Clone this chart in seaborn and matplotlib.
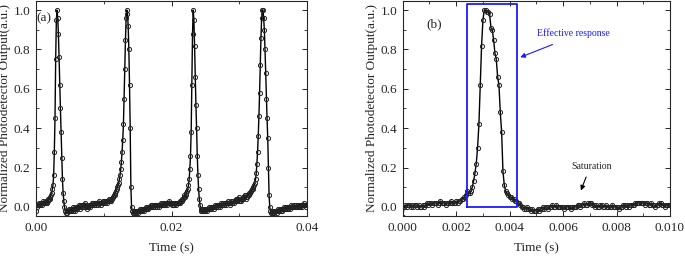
import numpy as np
import pandas as pd
import matplotlib
matplotlib.use('Agg')
import matplotlib.pyplot as plt
from matplotlib.ticker import MultipleLocator
import seaborn as sns

# panel (a): pulse train, sampled every 0.1 ms (one row = 1 ms)
signal_a = [
    -0.02, 0.00, 0.01, 0.01, 0.02, 0.01, 0.01, 0.02, 0.02, 0.01,
    0.02, 0.03, 0.02, 0.02, 0.03, 0.02, 0.02, 0.03, 0.04, 0.04,
    0.04, 0.05, 0.06, 0.07, 0.09, 0.11, 0.16, 0.28, 0.45, 0.75,
    0.95, 1.00, 0.96, 0.88, 0.76, 0.62, 0.50, 0.38, 0.25, 0.14,
    0.07, 0.03, 0.00, -0.02, -0.03, -0.02, -0.03, -0.02, -0.01, -0.02,
    -0.02, -0.01, -0.02, -0.01, -0.02, 0.00, -0.01, -0.02, -0.01, 0.00,
    0.00, -0.01, 0.00, 0.01, 0.00, -0.01, 0.00, 0.01, 0.01, 0.00,
    0.00, 0.01, 0.02, 0.01, 0.00, -0.01, 0.00, 0.00, 0.01, 0.00,
    0.01, 0.01, 0.02, 0.01, 0.02, 0.01, 0.01, 0.02, 0.01, 0.02,
    0.02, 0.01, 0.02, 0.03, 0.02, 0.02, 0.01, 0.02, 0.02, 0.03,
    0.03, 0.02, 0.02, 0.03, 0.03, 0.02, 0.03, 0.04, 0.03, 0.03,
    0.03, 0.04, 0.04, 0.05, 0.05, 0.06, 0.06, 0.07, 0.08, 0.09,
    0.10, 0.11, 0.12, 0.14, 0.16, 0.19, 0.23, 0.28, 0.34, 0.42,
    0.55, 0.70, 0.85, 0.96, 1.00, 0.98, 0.92, 0.80, 0.62, 0.40,
    0.10, 0.00, -0.02, -0.03, -0.02, -0.03, -0.03, -0.02, -0.03, -0.02,
    -0.02, -0.03, -0.02, -0.01, -0.02, -0.02, -0.01, -0.02, -0.01, -0.01,
    -0.02, -0.01, 0.00, -0.01, -0.01, 0.00, -0.01, 0.00, 0.00, 0.01,
    0.00, 0.01, 0.00, 0.00, 0.01, 0.00, 0.01, 0.01, 0.00, 0.01,
    0.01, 0.00, 0.01, 0.01, 0.02, 0.01, 0.01, 0.02, 0.01, 0.01,
    0.02, 0.01, 0.02, 0.02, 0.01, 0.02, 0.02, 0.03, 0.02, 0.02,
    0.01, 0.02, 0.01, 0.02, 0.01, 0.02, 0.02, 0.01, 0.02, 0.02,
    0.02, 0.02, 0.03, 0.02, 0.03, 0.03, 0.04, 0.04, 0.05, 0.06,
    0.05, 0.06, 0.07, 0.08, 0.09, 0.11, 0.14, 0.19, 0.26, 0.38,
    0.62, 0.88, 1.00, 0.95, 0.82, 0.66, 0.52, 0.40, 0.26, 0.16,
    0.09, 0.04, 0.01, -0.01, -0.02, -0.02, -0.01, -0.02, -0.02, -0.01,
    -0.02, -0.01, -0.01, -0.02, -0.01, 0.00, -0.01, -0.01, 0.00, -0.01,
    0.00, 0.00, -0.01, 0.00, 0.01, 0.00, 0.00, 0.01, 0.00, 0.01,
    0.01, 0.00, 0.01, 0.02, 0.01, 0.01, 0.02, 0.01, 0.01, 0.02,
    0.02, 0.01, 0.02, 0.03, 0.02, 0.02, 0.01, 0.02, 0.03, 0.02,
    0.02, 0.03, 0.02, 0.03, 0.03, 0.04, 0.03, 0.04, 0.04, 0.05,
    0.03, 0.03, 0.04, 0.03, 0.04, 0.04, 0.05, 0.05, 0.06, 0.06,
    0.04, 0.05, 0.05, 0.06, 0.06, 0.07, 0.07, 0.08, 0.08, 0.09,
    0.09, 0.10, 0.11, 0.12, 0.14, 0.17, 0.22, 0.28, 0.36, 0.46,
    0.58, 0.72, 0.86, 0.96, 1.00, 1.00, 0.96, 0.90, 0.80, 0.68,
    0.55, 0.45, 0.35, 0.20, 0.06, 0.00, -0.02, -0.03, -0.02, -0.03,
    -0.03, -0.02, -0.03, -0.02, -0.02, -0.03, -0.02, -0.01, -0.02, -0.02,
    -0.01, -0.02, -0.01, -0.02, -0.01, -0.01, 0.00, -0.01, -0.01, 0.00,
    -0.01, 0.00, -0.01, 0.00, 0.00, -0.01, 0.00, 0.01, 0.00, 0.00,
    0.00, 0.01, 0.00, 0.00, 0.01, 0.00, 0.01, 0.00, 0.00, 0.01,
    0.00, 0.01, 0.01, 0.00, 0.01, 0.02, 0.01, 0.01, 0.00, 0.01,
    0.01,
]
time_a = np.arange(len(signal_a)) * 0.0001

# panel (b): single pulse, sampled every 0.05 ms (one row = 1 ms)
signal_b = [
    -0.05, 0.00, 0.01, 0.00, 0.01, 0.01, 0.00, 0.01, 0.00, 0.01, 0.01, 0.00, 0.01, 0.00, 0.00, 0.01, 0.00, 0.01, 0.02, 0.01,
    0.02, 0.02, 0.01, 0.02, 0.02, 0.02, 0.01, 0.02, 0.03, 0.02, 0.02, 0.02, 0.01, 0.02, 0.02, 0.02, 0.03, 0.02, 0.02, 0.02,
    0.03, 0.02, 0.03, 0.03, 0.04, 0.04, 0.05, 0.06, 0.08, 0.07, 0.07, 0.08, 0.10, 0.13, 0.17, 0.22, 0.30, 0.42, 0.62, 0.82,
    0.95, 1.00, 1.00, 0.99, 0.99, 0.98, 0.91, 0.90, 0.85, 0.78, 0.75, 0.66, 0.62, 0.48, 0.38, 0.18, 0.11, 0.08, 0.07, 0.06,
    0.05, 0.05, 0.04, 0.04, 0.03, 0.03, 0.02, 0.02, 0.01, 0.00, 0.00, -0.01, -0.01, 0.00, -0.01, -0.01, -0.02, -0.01, -0.02, -0.02,
    -0.02, -0.01, -0.02, -0.01, -0.01, 0.00, -0.01, 0.00, 0.00, -0.01, 0.00, 0.00, 0.01, 0.00, 0.00, 0.01, 0.00, 0.00, 0.00, 0.00,
    0.00, -0.01, 0.00, 0.00, 0.00, 0.00, -0.01, 0.00, 0.00, 0.00, 0.00, 0.01, 0.01, 0.00, 0.01, 0.01, 0.02, 0.01, 0.01, 0.02,
    0.02, 0.02, 0.01, 0.01, 0.00, 0.01, 0.00, 0.00, 0.01, 0.01, 0.00, 0.00, 0.01, 0.00, 0.00, 0.00, 0.00, 0.01, 0.00, 0.00,
    0.00, 0.00, -0.01, 0.00, 0.00, 0.01, 0.01, 0.00, 0.01, 0.00, 0.01, 0.01, 0.01, 0.01, 0.02, 0.02, 0.02, 0.02, 0.02, 0.02,
    0.02, 0.01, 0.02, 0.02, 0.01, 0.01, 0.02, 0.01, 0.01, 0.00, 0.01, 0.01, 0.02, 0.02, 0.01, 0.01, 0.00, 0.01, 0.01, 0.01,
    0.01,
]
time_b = np.arange(len(signal_b)) * 0.00005

# effective-response window in panel (b)
window_t = [0.00242, 0.00428]
window_y = [0.0, 1.03]

frame_a = pd.DataFrame({'time': time_a, 'signal': signal_a})
frame_b = pd.DataFrame({'time': time_b, 'signal': signal_b})

sns.set_style('ticks')
plt.rcParams['font.family'] = ['Liberation Serif', 'DejaVu Serif']
plt.rcParams['font.size'] = 9.5
plt.rcParams['xtick.direction'] = 'in'
plt.rcParams['ytick.direction'] = 'in'
plt.rcParams['xtick.top'] = True
plt.rcParams['ytick.right'] = True

fig = plt.figure(figsize=(6.85, 2.58), dpi=100)
ax1 = fig.add_axes([0.0526, 0.163, 0.3956, 0.833])
ax2 = fig.add_axes([0.588, 0.163, 0.390, 0.833])

line_kw = dict(color='black', linewidth=1.0, marker='o', markersize=3.0,
               markerfacecolor='none', markeredgecolor='#222222',
               markeredgewidth=0.7, estimator=None)

sns.lineplot(data=frame_a, x='time', y='signal', ax=ax1, **line_kw)
sns.lineplot(data=frame_b, x='time', y='signal', ax=ax2, **line_kw)

for ax in (ax1, ax2):
    ax.set_ylim(-0.046, 1.046)
    ax.yaxis.set_major_locator(MultipleLocator(0.2))
    ax.yaxis.set_minor_locator(MultipleLocator(0.1))
    ax.set_xlabel('Time (s)', labelpad=6)
    ax.set_ylabel('Normalized Photodetector Output(a.u.)', labelpad=2)
    ax.tick_params(which='major', length=3.5, width=0.7, pad=4)
    ax.tick_params(which='minor', length=2, width=0.6)
    for sp in ax.spines.values():
        sp.set_linewidth(0.8)

ax1.set_xlim(0, 0.04)
ax1.xaxis.set_major_locator(MultipleLocator(0.02))
ax1.xaxis.set_minor_locator(MultipleLocator(0.01))
ax1.set_xticklabels([f'{v:.2f}' for v in ax1.get_xticks()])
ax1.text(0.0001, 0.99, '(a)', ha='left', va='top')

ax2.set_xlim(0, 0.01)
ax2.xaxis.set_major_locator(MultipleLocator(0.002))
ax2.xaxis.set_minor_locator(MultipleLocator(0.001))
ax2.set_xticklabels([f'{v:.3f}' for v in ax2.get_xticks()])
ax2.text(0.0009, 0.96, '(b)', ha='left', va='top')

ax2.plot([window_t[0], window_t[1], window_t[1], window_t[0], window_t[0]],
         [window_y[0], window_y[0], window_y[1], window_y[1], window_y[0]],
         color='#1a1aff', linewidth=1.3)
ax2.text(0.00502, 0.885, 'Effective response', color='#1a1aff', fontsize=7, ha='left', va='center')
ax2.annotate('', xy=(0.0043, 0.755), xytext=(0.0057, 0.83),
             arrowprops=dict(arrowstyle='-|>', color='#1a1aff', lw=0.8, mutation_scale=7))
ax2.text(0.00707, 0.205, 'Saturation', fontsize=7, ha='center', va='center')
ax2.annotate('', xy=(0.00663, 0.07), xytext=(0.0069, 0.165),
             arrowprops=dict(arrowstyle='-|>', color='black', lw=0.8, mutation_scale=7))

fig.savefig('out.png', dpi=100)
